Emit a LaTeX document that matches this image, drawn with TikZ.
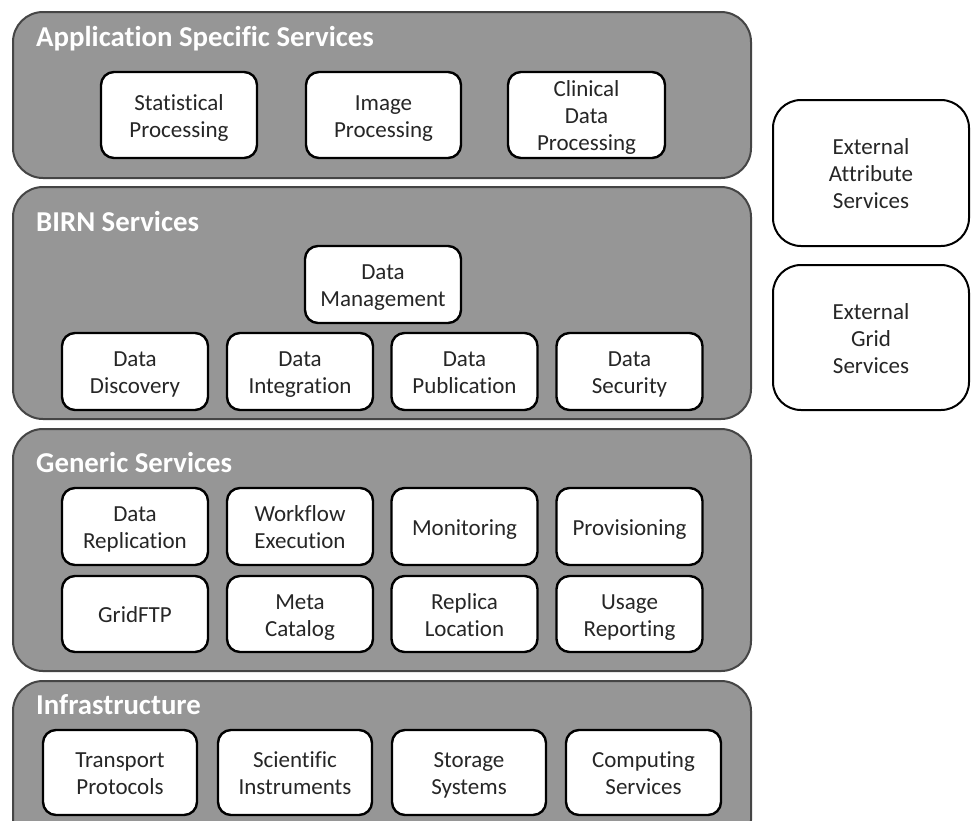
\documentclass[tikz,border=0pt]{standalone}
\usepackage{fontspec}
\setmainfont{Carlito}[Ligatures=NoCommon]
\definecolor{layerfill}{HTML}{969696}
\definecolor{layerline}{HTML}{454545}
\newcommand{\ts}{\rule{0pt}{22pt}}
\newcommand{\bs}{\rule[-5pt]{0pt}{5pt}}
\begin{document}
\begin{tikzpicture}[x=1pt,y=-1pt,
  layer/.style={draw=layerline, fill=layerfill, line width=2pt, rounded corners=30pt,
    rectangle, inner sep=0pt, outer sep=0pt},
  layertitle/.style={anchor=base west, text=white, inner sep=0pt,
    font=\fontsize{28.8}{32}\selectfont\bfseries},
  svc/.style={draw=black, fill=white, line width=2.4pt, rounded corners=13pt,
    rectangle, inner sep=0pt, outer sep=0pt, align=center, text=black!85,
    font=\fontsize{23}{27}\selectfont},
  ext/.style={svc, line width=2pt, rounded corners=28pt}]
\useasboundingbox (0,0) rectangle (974,820);
\clip (0,0) rectangle (974,820);
\fill[white] (0,0) rectangle (974,820);

% layers
\node[layer, minimum width=738pt, minimum height=166pt] (L1) at (382,95) {};
\node[layer, minimum width=738pt, minimum height=232pt] (L2) at (382,303) {};
\node[layer, minimum width=738pt, minimum height=242pt] (L3) at (382,550) {};
\node[layer, minimum width=738pt, minimum height=169pt] (L4) at (382,765.5) {};

\node[layertitle] (T1) at (36,46) {Application Specific Services};
\node[layertitle] (T2) at (36,231) {BIRN Services};
\node[layertitle] (T3) at (36,472) {Generic Services};
\node[layertitle] (T4) at (36,714) {Infrastructure};

% application specific
\node[svc, minimum width=156pt, minimum height=86pt] (stat) at (179,115) {\ts Statistical\\Processing\bs};
\node[svc, minimum width=155pt, minimum height=86pt] (img) at (383.5,115) {\ts Image\\Processing\bs};
\node[svc, minimum width=157pt, minimum height=86pt] (clin) at (586.5,115) {\ts Clinical\\Data\\Processing\bs};

% BIRN
\node[svc, minimum width=156pt, minimum height=77pt] (dm) at (383,284.5) {\ts Data\\Management\bs};
\node[svc, minimum width=146pt, minimum height=77pt] (dd) at (135,371.5) {\ts Data\\Discovery\bs};
\node[svc, minimum width=146pt, minimum height=77pt] (di) at (300,371.5) {\ts Data\\Integration\bs};
\node[svc, minimum width=146pt, minimum height=77pt] (dp) at (464.5,371.5) {\ts Data\\Publication\bs};
\node[svc, minimum width=146pt, minimum height=77pt] (ds) at (629.5,371.5) {\ts Data\\Security\bs};

% generic
\node[svc, minimum width=146pt, minimum height=77pt] (drep) at (135,526.5) {\ts Data\\Replication\bs};
\node[svc, minimum width=146pt, minimum height=77pt] (wf) at (300,526.5) {\ts Workflow\\Execution\bs};
\node[svc, minimum width=146pt, minimum height=77pt] (mon) at (464.5,526.5) {\ts Monitoring\bs};
\node[svc, minimum width=146pt, minimum height=77pt] (prov) at (629.5,526.5) {\ts Provisioning\bs};
\node[svc, minimum width=146pt, minimum height=76pt] (gftp) at (135,614) {\ts GridFTP\bs};
\node[svc, minimum width=146pt, minimum height=76pt] (meta) at (300,614) {\ts Meta\\Catalog\bs};
\node[svc, minimum width=146pt, minimum height=76pt] (rloc) at (464.5,614) {\ts Replica\\Location\bs};
\node[svc, minimum width=146pt, minimum height=76pt] (usage) at (629.5,614) {\ts Usage\\Reporting\bs};

% infrastructure
\node[svc, minimum width=154pt, minimum height=85pt] (tp) at (120,772.5) {\ts Transport\\Protocols\bs};
\node[svc, minimum width=154pt, minimum height=85pt] (si) at (295,772.5) {\ts Scientific\\Instruments\bs};
\node[svc, minimum width=154pt, minimum height=85pt] (ss) at (469,772.5) {\ts Storage\\Systems\bs};
\node[svc, minimum width=155pt, minimum height=85pt] (cs) at (643.5,772.5) {\ts Computing\\Services\bs};

% external
\node[ext, minimum width=196pt, minimum height=146pt] (ea) at (871,173) {\ts External\\Attribute\\Services\bs};
\node[ext, minimum width=196pt, minimum height=145pt] (eg) at (871,337.5) {\ts External\\Grid\\Services\bs};
\end{tikzpicture}
\end{document}
